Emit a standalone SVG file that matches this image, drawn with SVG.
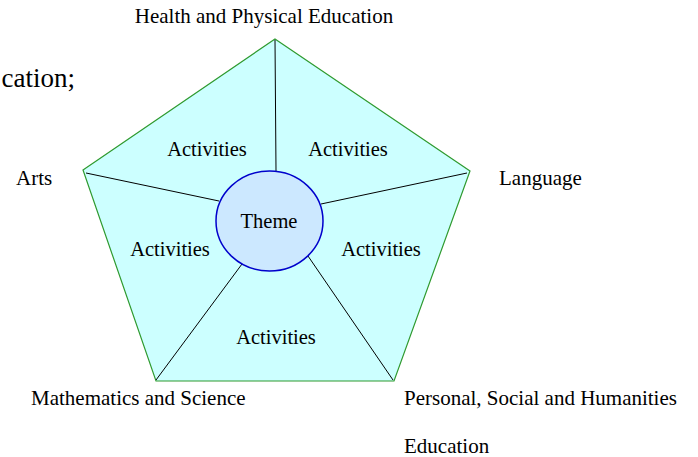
<svg xmlns="http://www.w3.org/2000/svg" width="698" height="457" viewBox="0 0 698 457">
  <style>
    text { font-family: "Liberation Serif", "Times New Roman", serif; fill: #000; }
    .lbl { font-size: 21px; }
    .act { font-size: 20.5px; }
    .spoke { stroke: #000; stroke-width: 1; fill: none; }
  </style>
  <rect width="698" height="457" fill="#fff"/>

  <!-- fragment of a heading at the left edge -->
  <text x="75" y="87" font-size="27" text-anchor="end">cation;</text>

  <!-- pentagon of learning areas -->
  <g id="pentagon">
    <polygon points="275,39 470,171 394,381 156,381 83,170" fill="#ccffff" stroke="#2f9a2f" stroke-width="1.2"/>
  </g>

  <!-- spokes from each corner to the central theme -->
  <g id="connectors">
    <line class="spoke" x1="275" y1="40" x2="276" y2="171"/>
    <line class="spoke" x1="86" y1="173" x2="219" y2="201"/>
    <line class="spoke" x1="467" y1="173" x2="321" y2="204"/>
    <line class="spoke" x1="156" y1="380" x2="242" y2="264"/>
    <line class="spoke" x1="393" y1="380" x2="308" y2="256"/>
  </g>

  <g id="theme">
    <ellipse cx="269.5" cy="221" rx="53.5" ry="50" fill="#cce8ff" stroke="#0000cc" stroke-width="1.5"/>
    <text class="act" x="269" y="228" text-anchor="middle">Theme</text>
  </g>

  <g id="activities">
    <text class="act" x="207" y="156" text-anchor="middle">Activities</text>
    <text class="act" x="348" y="156" text-anchor="middle">Activities</text>
    <text class="act" x="170" y="256" text-anchor="middle">Activities</text>
    <text class="act" x="381" y="256" text-anchor="middle">Activities</text>
    <text class="act" x="276" y="344" text-anchor="middle">Activities</text>
  </g>

  <g id="health">
    <text class="lbl" x="264" y="23" text-anchor="middle">Health and Physical Education</text>
  </g>
  <g id="arts">
    <text class="lbl" x="16" y="185">Arts</text>
  </g>
  <g id="language">
    <text class="lbl" x="499" y="185">Language</text>
  </g>
  <g id="maths">
    <text class="lbl" x="31" y="405">Mathematics and Science</text>
  </g>
  <g id="personal">
    <text class="lbl" x="404" y="405">Personal, Social and Humanities</text>
    <text class="lbl" x="404" y="453">Education</text>
  </g>
</svg>
